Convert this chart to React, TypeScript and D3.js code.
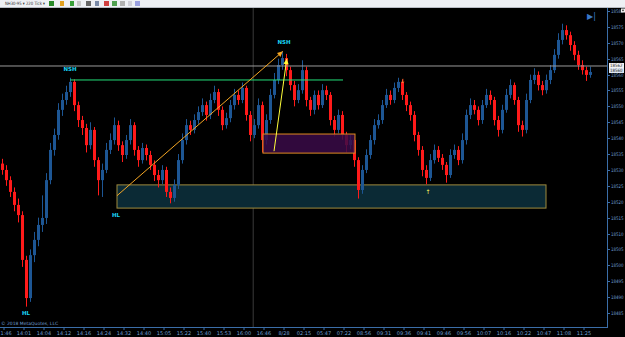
import React from "react";
import * as d3 from "d3";

const W = 625;
const H = 337;

const firstOpen = 18532.0;
const closes = [
  18530.0, 18526.8, 18523.1, 18519.0, 18515.8, 18501.7, 18489.7, 18503.2, 18508.0, 18512.7,
  18514.9, 18526.8, 18536.3, 18541.0, 18548.9, 18552.0, 18554.5, 18557.7, 18550.4, 18545.7,
  18543.2, 18537.8, 18542.6, 18533.1, 18526.8, 18530.0, 18536.3, 18539.4, 18544.1, 18537.8,
  18534.7, 18539.4, 18544.1, 18536.3, 18533.1, 18536.9, 18534.7, 18531.6, 18528.4, 18526.8,
  18530.0, 18523.1, 18521.2, 18525.3, 18533.1, 18539.4, 18544.1, 18542.6, 18545.7, 18548.2,
  18550.4, 18547.3, 18552.0, 18554.5, 18548.9, 18544.1, 18546.3, 18550.4, 18553.6, 18552.0,
  18555.8, 18547.3, 18541.0, 18544.1, 18550.4, 18539.4, 18545.7, 18553.6, 18558.3, 18563.0,
  18565.2, 18561.4, 18556.7, 18552.0, 18555.1, 18561.4, 18552.0, 18548.9, 18553.6, 18550.4,
  18555.1, 18553.6, 18545.7, 18542.6, 18547.3, 18541.0, 18537.8, 18539.4, 18533.1, 18523.7,
  18530.0, 18534.7, 18539.4, 18544.1, 18545.7, 18550.4, 18553.6, 18552.0, 18555.8, 18557.7,
  18553.6, 18550.4, 18547.3, 18541.0, 18536.3, 18530.0, 18527.5, 18533.1, 18536.3, 18533.8,
  18531.6, 18528.4, 18534.7, 18536.3, 18533.1, 18539.4, 18547.3, 18550.4, 18548.9, 18545.7,
  18550.4, 18553.6, 18552.0, 18545.7, 18542.6, 18548.9, 18553.6, 18556.7, 18552.0, 18544.1,
  18542.6, 18552.0, 18558.3, 18559.9, 18556.7, 18555.1, 18558.3, 18561.4, 18566.2, 18570.9,
  18574.0, 18572.4, 18569.3, 18566.2, 18563.0, 18561.4, 18559.9, 18560.8,
];
const highs = [
  18533.5, 18531.5, 18528.0, 18524.5, 18521.0, 18517.0, 18503.0, 18505.0, 18510.5, 18515.0,
  18522.0, 18529.0, 18538.5, 18543.0, 18551.0, 18554.0, 18556.5, 18559.0, 18558.5, 18551.5,
  18547.0, 18544.5, 18545.0, 18543.5, 18534.0, 18532.0, 18538.5, 18541.5, 18546.5, 18545.5,
  18539.0, 18541.0, 18546.0, 18545.0, 18537.5, 18538.5, 18538.0, 18536.0, 18533.0, 18530.0,
  18531.5, 18531.0, 18524.5, 18527.0, 18535.0, 18541.5, 18546.0, 18545.5, 18547.5, 18550.0,
  18552.5, 18551.5, 18554.0, 18556.5, 18555.5, 18550.0, 18548.0, 18552.0, 18555.5, 18555.0,
  18557.5, 18556.5, 18548.5, 18546.0, 18552.5, 18551.5, 18547.5, 18555.5, 18560.5, 18565.0,
  18567.2, 18566.5, 18562.5, 18558.0, 18557.0, 18564.5, 18562.5, 18553.0, 18555.0, 18555.0,
  18557.0, 18556.5, 18554.5, 18547.0, 18549.0, 18548.5, 18542.0, 18541.0, 18540.5, 18534.0,
  18531.5, 18536.5, 18541.0, 18546.0, 18547.5, 18552.0, 18555.5, 18555.0, 18557.5, 18559.0,
  18558.5, 18554.5, 18551.5, 18548.5, 18542.0, 18537.5, 18531.5, 18535.0, 18538.0, 18537.5,
  18535.0, 18532.5, 18536.5, 18538.0, 18537.5, 18541.5, 18549.0, 18552.5, 18552.0, 18550.0,
  18552.0, 18555.5, 18555.0, 18553.0, 18547.0, 18550.5, 18555.5, 18558.5, 18557.5, 18553.0,
  18545.5, 18554.0, 18560.0, 18562.0, 18561.0, 18558.0, 18560.0, 18563.0, 18568.0, 18573.0,
  18576.0, 18575.5, 18573.5, 18570.5, 18567.5, 18564.5, 18562.5, 18562.5,
];
const lows = [
  18528.5, 18525.0, 18521.5, 18517.0, 18513.5, 18499.5, 18487.0, 18488.5, 18501.0, 18506.0,
  18510.5, 18513.0, 18525.5, 18534.5, 18539.5, 18547.0, 18550.5, 18553.0, 18548.5, 18543.5,
  18541.0, 18535.5, 18536.5, 18531.0, 18522.0, 18521.5, 18529.0, 18535.0, 18538.0, 18536.0,
  18532.5, 18533.5, 18538.0, 18534.5, 18531.0, 18532.0, 18533.0, 18530.0, 18526.5, 18524.5,
  18525.5, 18521.5, 18519.5, 18520.0, 18524.0, 18532.0, 18538.0, 18541.0, 18541.5, 18544.5,
  18547.0, 18545.5, 18546.0, 18551.0, 18547.0, 18542.5, 18543.0, 18545.0, 18549.0, 18550.5,
  18551.0, 18545.5, 18539.0, 18540.0, 18543.0, 18535.5, 18538.0, 18544.5, 18552.5, 18557.0,
  18561.5, 18559.5, 18555.0, 18550.0, 18551.0, 18554.0, 18550.0, 18547.0, 18547.5, 18549.0,
  18549.5, 18552.0, 18544.0, 18540.5, 18541.5, 18539.5, 18535.5, 18536.5, 18531.0, 18521.0,
  18522.5, 18529.0, 18533.5, 18538.0, 18543.0, 18544.5, 18549.5, 18550.5, 18551.0, 18554.5,
  18552.0, 18548.5, 18545.5, 18539.0, 18534.5, 18528.0, 18525.5, 18526.5, 18532.0, 18532.5,
  18530.0, 18526.0, 18527.5, 18533.5, 18531.5, 18532.0, 18538.0, 18546.0, 18547.5, 18544.0,
  18544.5, 18549.5, 18550.5, 18544.0, 18540.5, 18541.5, 18548.0, 18552.5, 18550.5, 18542.0,
  18540.5, 18541.5, 18551.0, 18557.0, 18555.0, 18553.5, 18554.0, 18557.0, 18560.5, 18565.0,
  18569.5, 18571.0, 18567.5, 18564.5, 18561.5, 18560.0, 18558.0, 18559.0,
];

const timeLabels = [
  "1:46", "14:01", "14:04", "14:12", "14:16", "14:24", "14:32", "14:40", "15:05", "15:22",
  "15:40", "15:53", "16:00", "16:46", "8/28", "02:15", "05:47", "07:22", "08:56", "09:31",
  "09:36", "09:41", "09:46", "09:56", "10:07", "10:16", "10:22", "10:47", "11:08", "11:25",
];
const timeLabelIndex = timeLabels.map((_, k) => k * 5);

const priceTicks = [
  18580, 18575, 18570, 18565, 18560, 18555, 18550, 18545, 18540, 18535,
  18530, 18525, 18520, 18515, 18510, 18505, 18500, 18495, 18490, 18485,
];

const currentBid = 18562.7;
const bidLabels = ["18562", "18560"];

// annotations (candle index, price)
const swingLabels = [
  { text: "NSH", i: 17, p: 18561.0 },
  { text: "NSH", i: 70.5, p: 18569.6 },
  { text: "HL", i: 6, p: 18484.3 },
  { text: "HL", i: 28.5, p: 18515.2 },
];
const zoneA = { i0: 28.75, i1: 136, pTop: 18525.3, pBot: 18518.0 };
const zoneB = { i0: 65.25, i1: 88.25, pTop: 18541.3, pBot: 18535.3 };
const greenLine = { i0: 17, i1: 85.25, p: 18558.3 };
const orangeArrow = { i0: 28.75, p0: 18521.9, i1: 70.2, p1: 18567.3 };
const yellowArrow = { i0: 68, p0: 18535.9, i1: 71.2, p1: 18565.0 };
const sessionLineIndex = 62.8;

const PLOT_R = 607;
const PLOT_B = 327;
const PLOT_T = 8;

export default function App() {
  const x = d3.scaleLinear().domain([0, closes.length - 1]).range([2, 590]);
  const y = d3.scaleLinear().domain([18485, 18580]).range([313, 11]);
  const opens = closes.map((c, i) => (i === 0 ? firstOpen : closes[i - 1]));
  const blue = "#1d5694";
  const red = "#ff1a1a";
  const axisCol = "#3b6ea8";
  const txtCol = "#6f9fd2";
  const font = "'DejaVu Sans', Arial, sans-serif";

  const arrowHead = (x0: number, y0: number, x1: number, y1: number, len: number, color: string) => {
    const a = Math.atan2(y1 - y0, x1 - x0);
    const p1 = [x1 - len * Math.cos(a - 0.45), y1 - len * Math.sin(a - 0.45)];
    const p2 = [x1 - len * Math.cos(a + 0.45), y1 - len * Math.sin(a + 0.45)];
    return <polygon points={`${x1},${y1} ${p1[0]},${p1[1]} ${p2[0]},${p2[1]}`} fill={color} />;
  };

  const oa = { x0: x(orangeArrow.i0), y0: y(orangeArrow.p0), x1: x(orangeArrow.i1), y1: y(orangeArrow.p1) };
  const ya = { x0: x(yellowArrow.i0), y0: y(yellowArrow.p0), x1: x(yellowArrow.i1), y1: y(yellowArrow.p1) };

  return (
    <div style={{ position: "absolute", left: 0, top: 0 }}>
      <svg width={W} height={H} style={{ display: "block", background: "#000" }}>
        <rect x={0} y={0} width={W} height={H} fill="#000" />
        {/* toolbar */}
        <rect x={0} y={0} width={W} height={7} fill="#eef0f4" />
        <line x1={0} x2={W} y1={7.5} y2={7.5} stroke="#b8bcc4" />
        <text x={5} y={5.3} fontSize={4.5} fontFamily={font} fill="#333" textLength={40} lengthAdjust="spacingAndGlyphs">NH30-95 ▾ 220 Tick ▾</text>
        <rect x={49} y={1} width={5} height={5} fill="#2a8a2a" />
        <rect x={60} y={1} width={4} height={5} fill="#e0a020" />
        <rect x={70} y={1} width={4} height={5} fill="#3aa03a" />
        <rect x={77} y={1} width={4} height={5} fill="#c8c8c8" />
        <rect x={86} y={1} width={5} height={5} fill="#666" />
        <rect x={95} y={1} width={4} height={5} fill="#7a8aa8" />
        <rect x={104} y={1} width={5} height={5} fill="#d04040" />
        <rect x={112} y={1} width={5} height={5} fill="#50a050" />
        <rect x={120} y={1} width={5} height={5} fill="#b0b0b0" />
        <rect x={128} y={1} width={4} height={5} fill="#d0d0d8" />
        <rect x={135} y={1} width={5} height={5} fill="#9aa0e0" />

        {/* session line */}
        <line x1={x(sessionLineIndex)} x2={x(sessionLineIndex)} y1={PLOT_T} y2={PLOT_B} stroke="#3a3a3a" strokeWidth={1} />

        {/* zones */}
        <rect x={x(zoneA.i0)} y={y(zoneA.pTop)} width={x(zoneA.i1) - x(zoneA.i0)} height={y(zoneA.pBot) - y(zoneA.pTop)}
          fill="#0b2a35" stroke="#a08a3c" strokeWidth={1} />

        {/* candles */}
        {closes.map((c, i) => {
          const o = opens[i];
          const up = c >= o;
          const col = up ? blue : red;
          const cx = Math.round(x(i)) + 0.5;
          const yt = y(Math.max(o, c));
          const yb = y(Math.min(o, c));
          return (
            <g key={i}>
              <line x1={cx} x2={cx} y1={y(highs[i])} y2={y(lows[i])} stroke={col} strokeWidth={1} />
              <rect x={cx - 1.5} y={yt} width={3} height={Math.max(1, yb - yt)} fill={col} />
            </g>
          );
        })}

        <rect x={x(zoneB.i0)} y={y(zoneB.pTop)} width={x(zoneB.i1) - x(zoneB.i0)} height={y(zoneB.pBot) - y(zoneB.pTop)}
          fill="#3a0b48" fillOpacity={0.85} stroke="#e08a20" strokeWidth={1} />

        {/* green line */}
        <line x1={x(greenLine.i0)} x2={x(greenLine.i1)} y1={y(greenLine.p)} y2={y(greenLine.p)} stroke="#22e07a" strokeWidth={1} />

        {/* bid line */}
        <line x1={0} x2={PLOT_R} y1={y(currentBid)} y2={y(currentBid)} stroke="#9a9a9a" strokeWidth={1} />

        {/* arrows */}
        <line x1={oa.x0} y1={oa.y0} x2={oa.x1} y2={oa.y1} stroke="#f5a623" strokeWidth={1} />
        {arrowHead(oa.x0, oa.y0, oa.x1, oa.y1, 6, "#f5a623")}
        <line x1={ya.x0} y1={ya.y0} x2={ya.x1} y2={ya.y1} stroke="#ffff3a" strokeWidth={1} />
        {arrowHead(ya.x0, ya.y0, ya.x1, ya.y1, 6, "#ffff3a")}

        {/* small signal arrows */}
        <text x={x(100.2)} y={y(18557.5)} fontSize={6} fill="#f0a040" fontFamily={font} textAnchor="middle">↓</text>
        <text x={x(106.5)} y={y(18522.5)} fontSize={6} fill="#ffff60" fontFamily={font} textAnchor="middle">↑</text>

        {/* swing labels */}
        {swingLabels.map((s, k) => (
          <text key={k} x={x(s.i)} y={y(s.p)} fontSize={5.5} fontWeight="bold" fill="#19d3f5" fontFamily={font} textAnchor="middle">{s.text}</text>
        ))}

        {/* top right icons */}
        <text x={587} y={19} fontSize={8} fill="#3a78c8" fontFamily={font}>▶|</text>

        {/* axes */}
        <line x1={PLOT_R + 0.5} x2={PLOT_R + 0.5} y1={PLOT_T} y2={PLOT_B} stroke={axisCol} />
        <line x1={0} x2={PLOT_R + 1} y1={PLOT_B + 0.5} y2={PLOT_B + 0.5} stroke={axisCol} />
        {priceTicks.map((p) => (
          <g key={p}>
            <line x1={PLOT_R} x2={PLOT_R + 3} y1={Math.round(y(p)) + 0.5} y2={Math.round(y(p)) + 0.5} stroke={axisCol} />
            <text x={PLOT_R + 4} y={y(p) + 2} fontSize={4.8} fill={txtCol} fontFamily={font} textLength={12.5} lengthAdjust="spacingAndGlyphs">{p}</text>
          </g>
        ))}
        <rect x={621} y={8.5} width={4} height={4} fill="#f4f4f4" />
        <path d="M621.8,9.8 L624.2,9.8 L623,11.6 Z" fill="#222" />
        {bidLabels.map((b, k) => (
          <g key={b}>
            <rect x={PLOT_R + 2} y={y(currentBid) - 3 + k * 5} width={15} height={5} fill={k === 0 ? "#f2f2f2" : "#dde6f2"} />
            <text x={PLOT_R + 3} y={y(currentBid) + 1.2 + k * 5} fontSize={4.5} fill="#222" fontFamily={font} textLength={12.5} lengthAdjust="spacingAndGlyphs">{b}</text>
          </g>
        ))}
        {timeLabels.map((t, k) => {
          const tx = x(timeLabelIndex[k]);
          return (
            <g key={k}>
              <line x1={tx + 2} x2={tx + 2} y1={PLOT_B} y2={PLOT_B + 3} stroke={axisCol} />
              <text x={k === 0 ? 0.5 : tx + 2} y={335} fontSize={5} fill={txtCol} fontFamily={font} textAnchor={k === 0 ? "start" : "middle"}>{t}</text>
            </g>
          );
        })}
        <text x={1} y={325} fontSize={4.5} fill={txtCol} fontFamily={font}>© 2018 MetaQuotes, LLC</text>
      </svg>
    </div>
  );
}
